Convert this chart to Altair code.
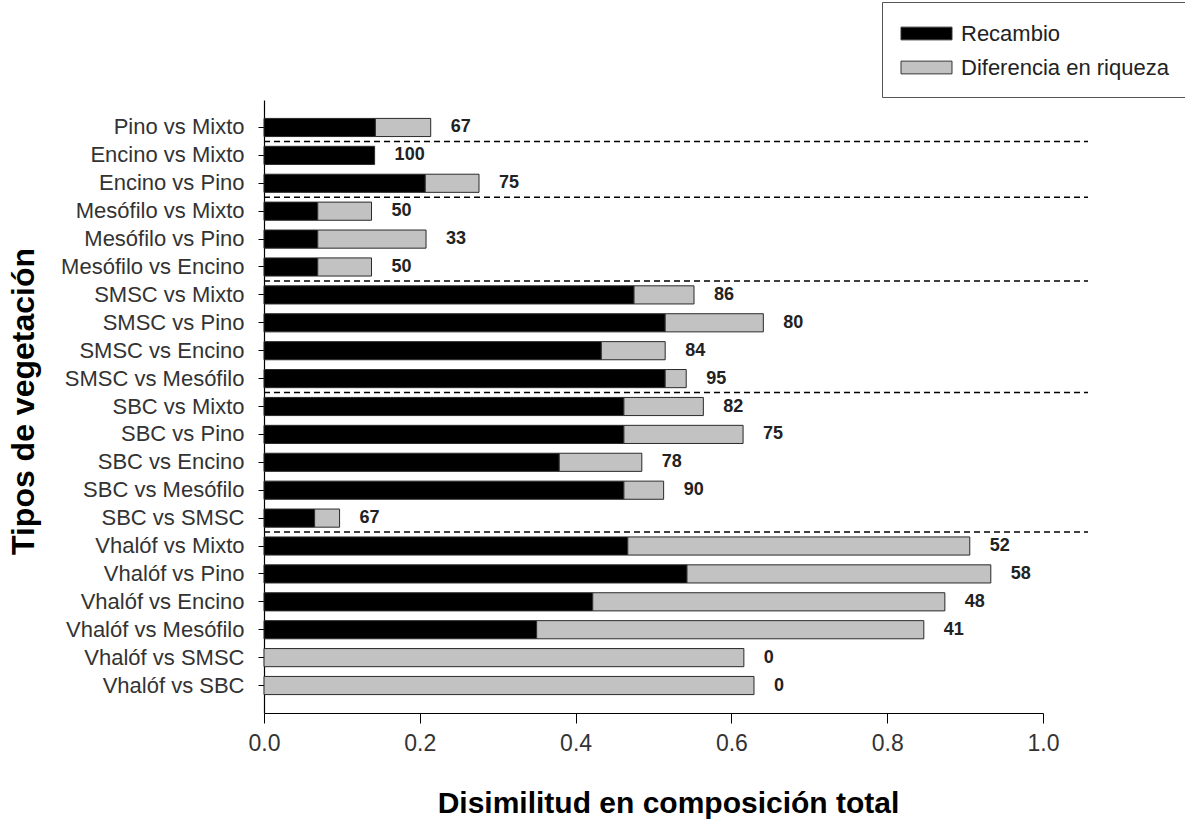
import altair as alt
import pandas as pd

FONT = "Liberation Sans"

comparaciones = [
    "Pino vs Mixto",
    "Encino vs Mixto", "Encino vs Pino",
    "Mesófilo vs Mixto", "Mesófilo vs Pino", "Mesófilo vs Encino",
    "SMSC vs Mixto", "SMSC vs Pino", "SMSC vs Encino", "SMSC vs Mesófilo",
    "SBC vs Mixto", "SBC vs Pino", "SBC vs Encino", "SBC vs Mesófilo", "SBC vs SMSC",
    "Vhalóf vs Mixto", "Vhalóf vs Pino", "Vhalóf vs Encino", "Vhalóf vs Mesófilo",
    "Vhalóf vs SMSC", "Vhalóf vs SBC",
]
recambio = [0.143,
            0.142, 0.207,
            0.069, 0.069, 0.069,
            0.475, 0.515, 0.433, 0.515,
            0.462, 0.462, 0.379, 0.462, 0.065,
            0.467, 0.543, 0.422, 0.350,
            0.0, 0.0]
total = [0.214,
         0.142, 0.276,
         0.138, 0.208, 0.138,
         0.552, 0.641, 0.515, 0.542,
         0.564, 0.615, 0.485, 0.513, 0.097,
         0.906, 0.933, 0.874, 0.847,
         0.616, 0.629]
etiquetas = [67, 100, 75, 50, 33, 50, 86, 80, 84, 95, 82, 75, 78, 90, 67, 52, 58, 48, 41, 0, 0]
separadores = ["Encino vs Mixto", "Mesófilo vs Mixto", "SMSC vs Mixto", "SBC vs Mixto", "Vhalóf vs Mixto"]
componentes = ["Recambio", "Diferencia en riqueza"]
colores = ["#000000", "#c2c2c2"]

rows = []
for c, r, t in zip(comparaciones, recambio, total):
    if r > 0:
        rows.append({"comp": c, "tipo": componentes[0], "ini": 0.0, "fin": r})
    if t - r > 0:
        rows.append({"comp": c, "tipo": componentes[1], "ini": r, "fin": t})
bars_df = pd.DataFrame(rows)
lab_df = pd.DataFrame({"comp": comparaciones, "total": total, "lab": [str(e) for e in etiquetas]})
sep_df = pd.DataFrame({"comp": separadores})

yenc = alt.Y("comp:N", sort=comparaciones,
             scale=alt.Scale(paddingOuter=0.66, paddingInner=0.35),
             axis=alt.Axis(title="Tipos de vegetación", labelFont=FONT, labelFontSize=22,
                           labelColor="#333333", labelPadding=14, labelLimit=400, tickSize=6,
                           tickColor="#000000", domainColor="#000000", domainWidth=1.2,
                           titleFont=FONT, titleFontSize=32, titleFontWeight="bold",
                           titleColor="#000000", titleX=-224, titleY=301))

bars = alt.Chart(bars_df).mark_bar(stroke="#2a2a2a", strokeWidth=1).encode(
    x=alt.X("ini:Q", scale=alt.Scale(domain=[0, 1], nice=False),
            axis=alt.Axis(title="Disimilitud en composición total", values=[0, 0.2, 0.4, 0.6, 0.8, 1.0],
                          format=".1f", labelFont=FONT, labelFontSize=23, labelColor="#333333",
                          labelFlush=False, tickSize=10, tickColor="#000000", domainColor="#000000",
                          domainWidth=1.2, grid=False, labelPadding=9, titleFont=FONT,
                          titleFontSize=30, titleFontWeight="bold", titleColor="#000000",
                          titlePadding=33, titleX=404)),
    x2="fin:Q",
    y=yenc,
    color=alt.Color("tipo:N", scale=alt.Scale(domain=componentes, range=colores),
                    legend=alt.Legend(title=None, orient="none", legendX=618, legendY=-98,
                                      symbolType="M-2,-0.5H2V0.5H-2Z", symbolSize=650,
                                      symbolStrokeColor="#333333", symbolStrokeWidth=1,
                                      symbolOffset=13, labelOffset=21, labelFont=FONT,
                                      labelFontSize=22, labelColor="#222222", padding=18,
                                      rowPadding=9, strokeColor="#555555", fillColor="#ffffff",
                                      labelLimit=400)),
)

labels = alt.Chart(lab_df).mark_text(align="left", baseline="middle", dx=20, font=FONT,
                                     fontSize=18, fontWeight="bold", color="#222222").encode(
    x=alt.X("total:Q"),
    y=alt.Y("comp:N", sort=comparaciones),
    text="lab:N",
)

seps = alt.Chart(sep_df).mark_rule(color="#000000", strokeWidth=1.5, strokeDash=[6, 4],
                                   yOffset=-14).encode(
    y=alt.Y("comp:N", sort=comparaciones),
    x=alt.value(0),
    x2=alt.value(824),
)

chart = alt.layer(bars, labels, seps).properties(
    width=779, height=613,
    padding={"left": 264, "top": 100, "right": 142, "bottom": 111},
    autosize=alt.AutoSizeParams(type="none"),
).configure(background="#ffffff").configure_view(stroke=None)

chart.save("out.html", embed_options={"renderer": "svg", "actions": False})
